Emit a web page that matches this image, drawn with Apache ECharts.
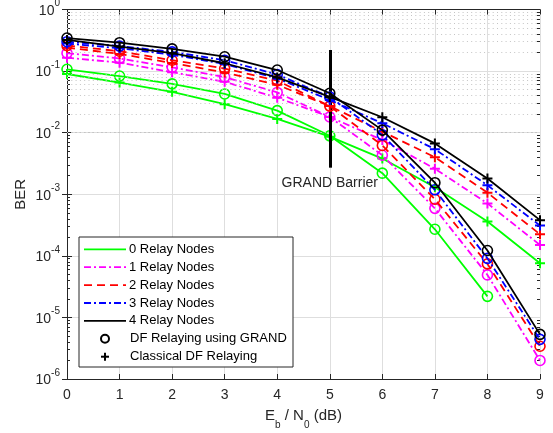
<!DOCTYPE html>
<html><head><meta charset="utf-8">
<script src="https://cdn.jsdelivr.net/npm/echarts@6/dist/echarts.min.js"></script>
<style>html,body{margin:0;padding:0;background:#fff}#c{width:553px;height:433px}</style>
</head><body><div id="c"></div>
<script>
// ---- data ----
const snr = [0, 1, 2, 3, 4, 5, 6, 7, 8, 9];
const grand0   = [0.107, 0.083, 0.062, 0.0425, 0.0228, 0.0089, 0.0022, 2.7e-4, 2.2e-5, null];
const classic0 = [0.0897, 0.065, 0.046, 0.029, 0.0167, 0.0086, 0.0038, 0.0013, 3.6e-4, 7.6e-5];
const grand1   = [0.195, 0.16, 0.115, 0.08, 0.045, 0.018, 0.0043, 5.9e-4, 4.9e-5, 2.0e-6];
const classic1 = [0.165, 0.137, 0.096, 0.067, 0.037, 0.018, 0.0076, 0.0026, 7.1e-4, 1.5e-4];
const grand2   = [0.26, 0.21, 0.15, 0.11, 0.07, 0.027, 0.0062, 8.3e-4, 7.4e-5, 3.4e-6];
const classic2 = [0.24, 0.19, 0.135, 0.095, 0.06, 0.027, 0.0104, 0.0040, 0.00106, 2.24e-4];
const grand3   = [0.30, 0.255, 0.205, 0.15, 0.088, 0.038, 0.0092, 0.00118, 9.1e-5, 4.4e-6];
const classic3 = [0.28, 0.235, 0.185, 0.13, 0.076, 0.034, 0.0142, 0.0054, 0.0014, 3.1e-4];
const grand4   = [0.344, 0.289, 0.229, 0.171, 0.104, 0.0436, 0.011, 0.00154, 1.22e-4, 5.3e-6];
const classic4 = [0.32, 0.25, 0.195, 0.134, 0.079, 0.038, 0.0178, 0.0067, 0.0018, 3.8e-4];
const relayNames = ['0 Relay Nodes', '1 Relay Nodes', '2 Relay Nodes', '3 Relay Nodes', '4 Relay Nodes'];
const markerNames = ['DF Relaying using GRAND', 'Classical DF Relaying'];
const barrierX = 5;
const barrierTop = 0.22;
const barrierBottom = 0.0027;
const barrierLabelY = 0.0015;
const barrierLabel = 'GRAND Barrier';
const yMin = 1e-6, yMax = 1;

// ---- styles ----
const FONT = "'Liberation Sans', Arial, Helvetica, sans-serif";
const AX = '#262626';
const colors = ['#00ff00', '#ff00ff', '#ff0000', '#0000ff', '#000000'];
const dashes = ['solid', [7, 3, 2, 3], [8, 5], [7, 3, 2, 3], 'solid'];
const grands = [grand0, grand1, grand2, grand3, grand4];
const classics = [classic0, classic1, classic2, classic3, classic4];
const PLUS = 'path://M4,0H6V4H10V6H6V10H4V6H0V4H4Z';

const minorVals = [];
for (let e = -6; e <= -1; e++) for (let m = 2; m <= 9; m++) minorVals.push(+(m * Math.pow(10, e)).toPrecision(3));

function pairs(ys) { const out = []; ys.forEach((v, i) => { if (v != null) out.push([snr[i], v]); }); return out; }

const series = [];
series.push({
  type: 'line', data: [], silent: true, z: 1,
  markLine: { silent: true, symbol: ['none', 'none'], label: { show: false },
    lineStyle: { type: [1, 3.3], color: '#c4c4c4', width: 1 },
    data: minorVals.map(v => ({ yAxis: v })) }
});
for (let i = 0; i < 5; i++) {
  series.push({
    type: 'line', name: relayNames[i] + ' GRAND', data: pairs(grands[i]), z: 3 + i,
    symbol: 'circle', symbolSize: 10, showAllSymbol: true,
    itemStyle: { color: 'rgba(0,0,0,0)', borderColor: colors[i], borderWidth: 1.6 },
    lineStyle: { color: colors[i], width: 1.8, type: dashes[i] }
  });
  series.push({
    type: 'line', name: relayNames[i] + ' classical', data: pairs(classics[i]), z: 3 + i,
    symbol: PLUS, symbolSize: 10, showAllSymbol: true,
    itemStyle: { color: colors[i], borderWidth: 0 },
    lineStyle: { color: colors[i], width: 1.8, type: dashes[i] }
  });
}
series.push({
  type: 'line', data: [], z: 10,
  markLine: { silent: true, symbol: ['none', 'none'], label: { show: false },
    lineStyle: { type: 'solid', color: '#000', width: 3 },
    data: [[{ coord: [barrierX, barrierTop] }, { coord: [barrierX, barrierBottom] }]] },
  markPoint: { silent: true, symbol: 'rect', symbolSize: 1, itemStyle: { color: 'rgba(0,0,0,0)' },
    label: { show: true, position: 'inside', formatter: barrierLabel, fontSize: 14, color: AX, fontFamily: FONT },
    data: [{ coord: [barrierX, barrierLabelY] }] }
});

// ---- legend (drawn) ----
const LX = 79, LY = 237, LW = 214, LH = 130, ROW0 = 249.3, ROWH = 17.9;
const g = [{ type: 'rect', shape: { x: LX, y: LY, width: LW, height: LH }, style: { fill: '#fff', stroke: AX, lineWidth: 1 }, z: 100 }];
for (let i = 0; i < 5; i++) {
  const y = ROW0 + ROWH * i;
  g.push({ type: 'line', shape: { x1: 84, y1: y, x2: 126, y2: y }, style: { stroke: colors[i], lineWidth: 1.8, lineDash: dashes[i] === 'solid' ? null : dashes[i] }, z: 101 });
  g.push({ type: 'text', x: 129, y: y, style: { text: relayNames[i], fontSize: 13, fontFamily: FONT, fill: '#000', verticalAlign: 'middle' }, z: 101 });
}
const yC = ROW0 + ROWH * 5, yP = ROW0 + ROWH * 6;
g.push({ type: 'circle', shape: { cx: 105, cy: yC, r: 4 }, style: { fill: 'none', stroke: '#000', lineWidth: 2 }, z: 101 });
g.push({ type: 'line', shape: { x1: 101, y1: yP, x2: 109, y2: yP }, style: { stroke: '#000', lineWidth: 2 }, z: 101 });
g.push({ type: 'line', shape: { x1: 105, y1: yP - 4, x2: 105, y2: yP + 4 }, style: { stroke: '#000', lineWidth: 2 }, z: 101 });
g.push({ type: 'text', x: 130, y: yC, style: { text: markerNames[0], fontSize: 13, fontFamily: FONT, fill: '#000', verticalAlign: 'middle' }, z: 101 });
g.push({ type: 'text', x: 130, y: yP, style: { text: markerNames[1], fontSize: 13, fontFamily: FONT, fill: '#000', verticalAlign: 'middle' }, z: 101 });

const minorAxis = (pos) => ({
  type: 'log', logBase: 10, min: yMin, max: yMax, position: pos, offset: 0,
  axisLine: { show: false },
  axisTick: { show: true, inside: true, length: 3, lineStyle: { color: AX }, customValues: minorVals },
  axisLabel: { show: false }, splitLine: { show: false }
});

const chart = echarts.init(document.getElementById('c'), null, { renderer: 'canvas' });
chart.setOption({
  animation: false,
  backgroundColor: '#fff',
  textStyle: { fontFamily: FONT },
  grid: { left: 67, right: 13, top: 9.5, bottom: 54, containLabel: false, outerBoundsMode: 'none' },
  xAxis: [{
    type: 'value', min: 0, max: 9, interval: 1, position: 'bottom',
    axisLine: { lineStyle: { color: AX, width: 1 } },
    axisTick: { inside: true, length: 5, lineStyle: { color: AX } },
    axisLabel: { fontSize: 14, color: AX, margin: 9, fontFamily: FONT },
    splitLine: { show: true, lineStyle: { color: '#dedede', width: 1 } },
    name: '{m|E}{sub|b}{m| / N}{sub|0}{m| (dB)}', nameLocation: 'middle', nameGap: 29, nameMoveOverlap: false,
    nameTextStyle: { color: AX, fontFamily: FONT, fontSize: 15,
      rich: { m: { fontSize: 15, lineHeight: 22, verticalAlign: 'top', color: AX, fontFamily: FONT },
              sub: { fontSize: 10, lineHeight: 10, verticalAlign: 'bottom', color: AX, fontFamily: FONT } } }
  }, {
    type: 'value', min: 0, max: 9, interval: 1, position: 'top',
    axisLine: { lineStyle: { color: AX, width: 1 } },
    axisTick: { inside: true, length: 5, lineStyle: { color: AX } },
    axisLabel: { show: false }, splitLine: { show: false }
  }],
  yAxis: [{
    type: 'log', logBase: 10, min: yMin, max: yMax, splitNumber: 6, position: 'left',
    axisLine: { show: true, lineStyle: { color: AX, width: 1 } },
    axisTick: { show: true, inside: true, length: 5, lineStyle: { color: AX } },
    axisLabel: { color: AX, margin: 7,
      formatter: v => '{b|10}{s|' + Math.round(Math.log10(v)) + '}',
      rich: { b: { fontSize: 14, lineHeight: 22, verticalAlign: 'middle', padding: [3, 0, 0, 0], color: AX, fontFamily: FONT },
              s: { fontSize: 10, lineHeight: 11, verticalAlign: 'top', color: AX, fontFamily: FONT } } },
    splitLine: { show: true, lineStyle: { color: '#dedede', width: 1 } },
    name: 'BER', nameLocation: 'middle', nameGap: 39, nameRotate: 90, nameMoveOverlap: false,
    nameTextStyle: { fontSize: 15, color: AX, fontFamily: FONT }
  }, {
    type: 'log', logBase: 10, min: yMin, max: yMax, splitNumber: 6, position: 'right',
    axisLine: { show: true, lineStyle: { color: AX, width: 1 } },
    axisTick: { show: true, inside: true, length: 5, lineStyle: { color: AX } },
    axisLabel: { show: false }, splitLine: { show: false }
  }, minorAxis('left'), minorAxis('right')],
  series: series,
  graphic: g
});
</script></body></html>
